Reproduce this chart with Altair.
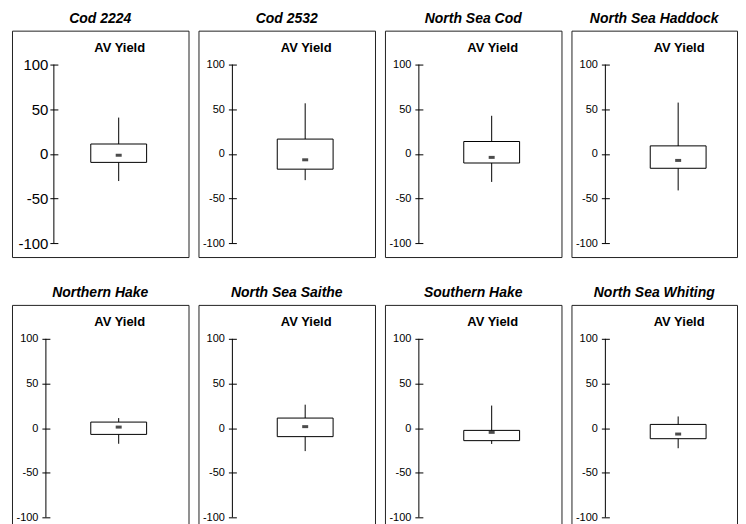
import altair as alt
import pandas as pd

# ---- data ----
stocks = ["Cod 2224", "Cod 2532", "North Sea Cod", "North Sea Haddock",
          "Northern Hake", "North Sea Saithe", "Southern Hake", "North Sea Whiting"]
whisker_low = [-30.5, -29.5, -31.5, -41.0, -17.6, -25.8, -17.8, -22.6]
box_q1 = [-9.6, -17.2, -10.3, -16.2, -7.1, -9.6, -14.1, -11.9]
box_q3 = [11.0, 16.5, 13.8, 8.9, 6.7, 11.2, -2.6, 4.1]
whisker_high = [40.6, 56.6, 42.6, 57.4, 11.2, 26.2, 25.2, 13.0]
mean_val = [-1.6, -6.7, -4.0, -7.4, 1.1, 1.6, -4.8, -6.7]
category = "AV Yield"
y_ticks = [-100, -50, 0, 50, 100]

df = pd.DataFrame({
    "stock": stocks, "low": whisker_low, "q1": box_q1, "q3": box_q3,
    "high": whisker_high, "mean": mean_val, "cat": [category] * len(stocks),
})

FONT = "Liberation Sans"
H = 227
WIDTHS = [177, 177, 177, 166, 177, 177, 177, 166]


def panel(i):
    name = stocks[i]
    big = (i == 0)
    axis_x = 42 if big else 34
    yscale = alt.Scale(domain=[-100, 100], range=[213, 34], nice=False, zero=False)
    xscale = alt.Scale(domain=[category], range=[50, 164], paddingInner=0, paddingOuter=0)
    yaxis = alt.Axis(values=y_ticks, domain=False, grid=False, tickSize=8,
                     tickColor="black", tickWidth=1, offset=-(axis_x + 4),
                     labelPadding=2 if big else 4, labelFontSize=15 if big else 11,
                     labelFont=FONT, labelColor="black",
                     labelExpr="'' + datum.value", title=None)
    base = alt.Chart(df).transform_filter(alt.datum.stock == name)
    axis_line = base.mark_rule(color="black", strokeWidth=1).encode(
        x=alt.value(axis_x), y=alt.datum(-100), y2=alt.datum(100))
    whisk = base.mark_rule(color="black", strokeWidth=1).encode(
        x=alt.X("cat:N", scale=xscale, axis=None),
        y=alt.Y("low:Q", scale=yscale, axis=yaxis),
        y2="high:Q")
    box = base.mark_bar(size=56, fill="white", stroke="black", strokeWidth=1).encode(
        x="cat:N", y="q1:Q", y2="q3:Q")
    mean = base.mark_tick(size=6, thickness=3, color="black").encode(
        x="cat:N", y="mean:Q")
    label = base.mark_text(font=FONT, fontSize=13, fontWeight="bold", color="black",
                           baseline="alphabetic", align="center", dx=1).encode(
        x="cat:N", y=alt.value(21), text="cat:N")
    return alt.layer(axis_line, whisk, box, mean, label).properties(
        width=WIDTHS[i], height=H,
        title=alt.TitleParams(name, fontSize=14, fontStyle="italic", fontWeight="bold",
                              font=FONT, color="black", anchor="middle",
                              baseline="alphabetic", offset=-6))


row1 = alt.hconcat(*[panel(i) for i in range(4)], spacing=10, bounds="flush")
row2 = alt.hconcat(*[panel(i) for i in range(4, 8)], spacing=10, bounds="flush")
chart = alt.vconcat(row1, row2, spacing=27).properties(
    padding={"left": 3, "top": 2, "right": 0, "bottom": 0},
    background="white",
).configure_view(stroke="#222", strokeWidth=1)

chart.save("out.html", embed_options={"renderer": "svg", "actions": False})
